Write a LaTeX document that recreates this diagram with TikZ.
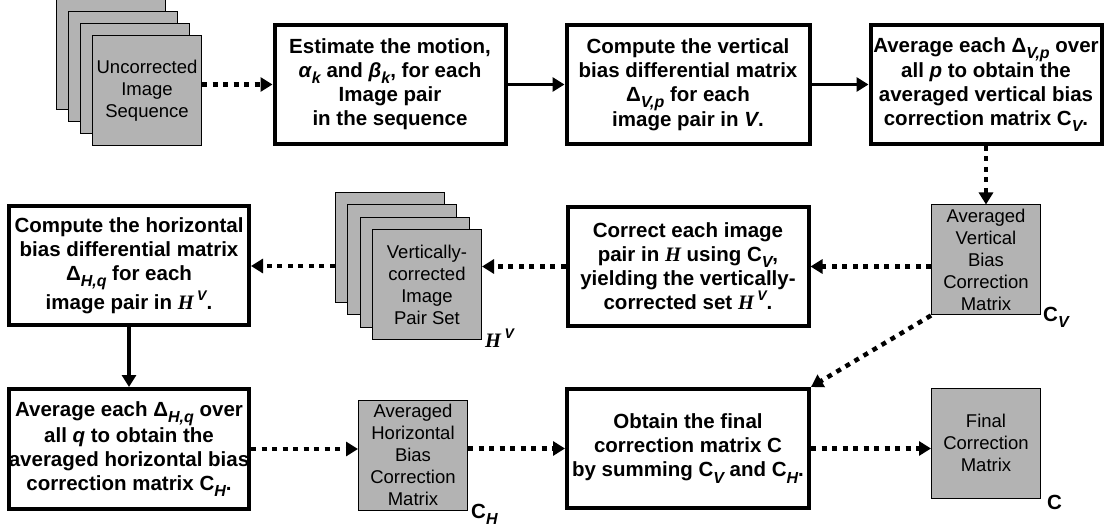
\documentclass[tikz,border=0pt]{standalone}
\usepackage{fontspec}
\setmainfont{Liberation Sans}
\newfontfamily\serifH{Liberation Serif}
\usetikzlibrary{arrows.meta}
\definecolor{sheetgray}{RGB}{179,179,179}
\newcommand{\lowsub}[1]{\raisebox{-0.3em}{\fontsize{16}{16}\selectfont\itshape #1}}
\newcommand{\hsym}{{\serifH\bfseries\itshape H}}
\newcommand{\hv}{\hsym\,\raisebox{0.45em}{\fontsize{14}{14}\selectfont\itshape V}}
\tikzstyle{boxes} = [rectangle, draw=black, line width=4pt, align=center, inner sep=0pt,
minimum height=119pt, font=\bfseries\fontsize{20.5}{24}\selectfont]
\tikzstyle{sheet} = [rectangle, draw=black, line width=1pt, fill=sheetgray, align=center,
inner sep=0pt, minimum width=109pt, minimum height=110pt, font=\fontsize{18.5}{22}\selectfont]
\tikzstyle{tag} = [anchor=base west, inner sep=0pt, font=\bfseries\fontsize{20.5}{24}\selectfont]
\tikzstyle{arrow} = [line width=3.5pt, -{Triangle[length=12pt,width=14pt]}]
\tikzstyle{dotarrow} = [line width=4.5pt, dash pattern=on 5pt off 5.5pt, -{Triangle[length=12pt,width=14pt]}]
\begin{document}
\begin{tikzpicture}[x=1pt, y=1pt, node distance=298pt]
    \useasboundingbox (0,0) rectangle (1106,-529);

    \node (motion) [boxes, minimum width=231pt] at (390,-84.5) {Estimate the motion,\\
    \textit{α}\lowsub{k} and \textit{β}\lowsub{k}, for each\\ Image pair\\ in the sequence};
    \node (vertDiff) [boxes, minimum width=243pt, right of=motion] {Compute the vertical\\
    bias differential matrix\\ Δ\lowsub{V,p} for each\\ image pair in \textit{V}.};
    \node (vertAvg) [boxes, minimum width=231pt, right of=vertDiff] {Average each Δ\lowsub{V,p} over\\
    all \textit{p} to obtain the\\ averaged vertical bias\\ correction matrix C\lowsub{V}.};

    \node (usPos) [coordinate, left of=motion, xshift=55pt, yshift=-6.5pt] {};
    \foreach \i in {3,2,1}
        \node (us\i) [sheet] at ([shift={(-12*\i,12*\i)}]usPos) {};
    \node (usFront) [sheet] at (usPos) {Uncorrected\\ Image\\ Sequence};

    \node (cV) [sheet, below of=vertAvg, yshift=122.5pt] {Averaged\\ Vertical\\ Bias\\ Correction\\ Matrix};
    \node (correct) [boxes, minimum width=241pt, left of=cV, yshift=-6.5pt] {Correct each image\\
    pair in \hsym\ using C\lowsub{V},\\ yielding the vertically-\\ corrected set \hv.};

    \node (vcPos) [coordinate, left of=correct, xshift=37pt, yshift=-18.5pt] {};
    \foreach \i in {3,2,1}
        \node (vc\i) [sheet] at ([shift={(-12.5*\i,12.5*\i)}]vcPos) {};
    \node (vcFront) [sheet] at (vcPos) {Vertically-\\ corrected\\ Image\\ Pair Set};

    \node (horizDiff) [boxes, minimum width=240pt, left of=vcPos, yshift=19pt] {Compute the horizontal\\
    bias differential matrix\\ Δ\lowsub{H,q} for each\\ image pair in \hv.};
    \node (horizAvg) [boxes, minimum width=240pt, minimum height=120pt, below of=horizDiff, yshift=115pt]
    {Average each Δ\lowsub{H,q} over\\ all \textit{q} to obtain the\\ averaged horizontal bias\\
    correction matrix C\lowsub{H}.};
    \node (cH) [sheet, right of=horizAvg, xshift=-14pt, yshift=-6pt] {Averaged\\ Horizontal\\ Bias\\
    Correction\\ Matrix};
    \node (final) [boxes, minimum width=242pt, below of=correct, yshift=116pt] {Obtain the final\\
    correction matrix C\\ by summing C\lowsub{V} and C\lowsub{H}.};
    \node (cFinal) [sheet, right of=final, yshift=5.5pt] {Final\\ Correction\\ Matrix};

    \node (cVtag) [tag] at ([xshift=2pt, yshift=-6pt]cV.south east) {C\lowsub{V}};
    \node (vcTag) [tag] at ([xshift=3pt, yshift=-7pt]vcFront.south east) {\hv};
    \node (cHtag) [tag] at ([xshift=3pt, yshift=-8pt]cH.south east) {C\lowsub{H}};
    \node (cTag) [tag] at ([xshift=6pt, yshift=-11pt]cFinal.south east) {C};

    \draw[dotarrow] (usFront.east |- motion.west) -- (motion.west);
    \draw[arrow] (motion) -- (vertDiff);
    \draw[arrow] (vertDiff) -- (vertAvg);
    \draw[dotarrow] (vertAvg) -- (cV);
    \draw[dotarrow] (cV.west |- correct.east) -- (correct.east);
    \draw[dotarrow] (correct.west) -- (vcFront.east |- correct.west);
    \draw[dotarrow] (vc3.west |- horizDiff.east) -- (horizDiff.east);
    \draw[arrow] (horizDiff) -- (horizAvg);
    \draw[dotarrow] (horizAvg.east) -- (cH.west |- horizAvg.east);
    \draw[dotarrow] (cH.east |- final.west) -- (final.west);
    \draw[dotarrow] (final.east) -- (cFinal.west |- final.east);
    \draw[dotarrow] (cV.south west) -- (final.north east);

\end{tikzpicture}
\end{document}
